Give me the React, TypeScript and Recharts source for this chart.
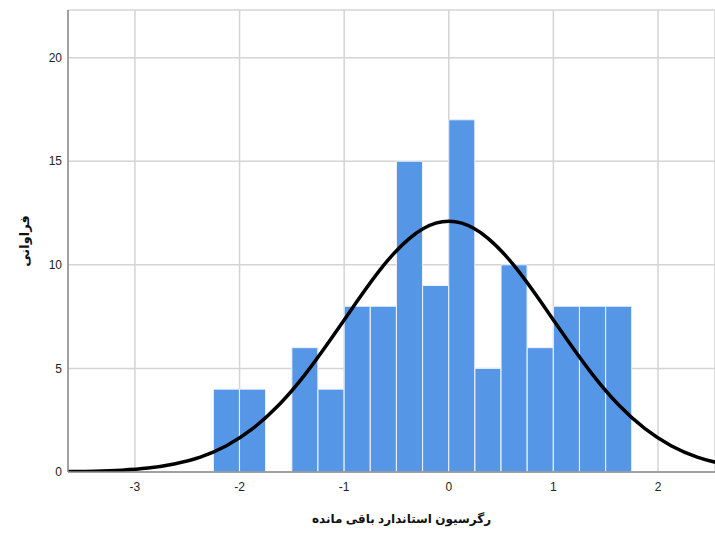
import React from 'react';
import {
  ComposedChart,
  Bar,
  Line,
  XAxis,
  YAxis,
  CartesianGrid,
} from 'recharts';

// histogram bins (width 0.25), with the normal curve read at the same x values
const binCenters = [-3.875, -3.625, -3.375, -3.125, -2.875, -2.625, -2.375, -2.125, -1.875, -1.625, -1.375, -1.125, -0.875, -0.625, -0.375, -0.125, 0.125, 0.375, 0.625, 0.875, 1.125, 1.375, 1.625, 1.875, 2.125, 2.375, 2.625, 2.875];
const binCounts = [0, 0, 0, 0, 0, 0, 0, 4, 4, 0, 6, 4, 8, 8, 15, 9, 17, 5, 10, 6, 8, 8, 8, 0, 0, 0, 0, 0];
const curveY = [0.01, 0.02, 0.04, 0.09, 0.19, 0.39, 0.72, 1.27, 2.09, 3.23, 4.7, 6.43, 8.25, 9.96, 11.28, 12.01, 12.01, 11.28, 9.96, 8.25, 6.43, 4.7, 3.23, 2.09, 1.27, 0.72, 0.39, 0.19];

const xTicks = [-3, -2, -1, 0, 1, 2];
const yTicks = [0, 5, 10, 15, 20];

const X_MIN = -3.64;
const X_MAX = 2.545;

const W = 715;
const H = 534;
const LEFT = 68;
const BOTTOM = 62;

const rows = binCenters.map((x, i) => ({
  x,
  count: binCounts[i] > 0 ? binCounts[i] : null,
  curve: curveY[i],
}));

const font = "Arial, 'Liberation Sans', 'DejaVu Sans', sans-serif";

const YTitle = ({ viewBox }: any) => {
  const cx = 24;
  const cy = viewBox.y + viewBox.height / 2;
  return (
    <text
      x={cx}
      y={cy}
      transform={`rotate(-90 ${cx} ${cy})`}
      textAnchor="middle"
      dominantBaseline="central"
      fill="#111"
      fontSize={13}
      fontWeight="bold"
      fontFamily={font}
    >
      فراوانی
    </text>
  );
};

const XTitle = ({ viewBox }: any) => {
  const cx = viewBox.x + viewBox.width / 2 + 10;
  const cy = 519;
  return (
    <text
      x={cx}
      y={cy}
      textAnchor="middle"
      dominantBaseline="central"
      fill="#111"
      fontSize={12}
      fontWeight="bold"
      fontFamily={font}
    >
      رگرسیون استاندارد باقی مانده
    </text>
  );
};

export default function App() {
  return (
    <div style={{ position: 'absolute', left: 0, top: 0, width: W, height: H, background: '#fff' }}>
      <ComposedChart
        width={W}
        height={H}
        data={rows}
        margin={{ top: 10, right: 0, bottom: 0, left: 0 }}
        barCategoryGap={0}
        barGap={0}
      >
        <CartesianGrid stroke="#d4d4d4" strokeWidth={1.5} />
        <XAxis
          dataKey="x"
          type="number"
          domain={[X_MIN, X_MAX]}
          ticks={xTicks}
          allowDataOverflow
          height={BOTTOM}
          tickSize={0}
          tickMargin={10}
          axisLine={{ stroke: '#8c8c8c', strokeWidth: 1.5 }}
          tick={{ fill: '#222', fontSize: 12, fontFamily: font }}
          label={{ content: XTitle }}
        />
        <YAxis
          type="number"
          domain={[0, 22.3]}
          ticks={yTicks}
          allowDataOverflow
          width={LEFT}
          tickSize={0}
          tickMargin={6}
          axisLine={{ stroke: '#8c8c8c', strokeWidth: 1.5 }}
          tick={{ fill: '#222', fontSize: 12, fontFamily: font }}
          label={{ content: YTitle }}
        />
        <Bar
          dataKey="count"
          fill="#5596e6"
          stroke="#eaf1fb"
          strokeWidth={1}
          isAnimationActive={false}
        />
        <Line
          dataKey="curve"
          type="natural"
          stroke="#000"
          strokeWidth={3.5}
          dot={false}
          isAnimationActive={false}
        />
      </ComposedChart>
    </div>
  );
}
